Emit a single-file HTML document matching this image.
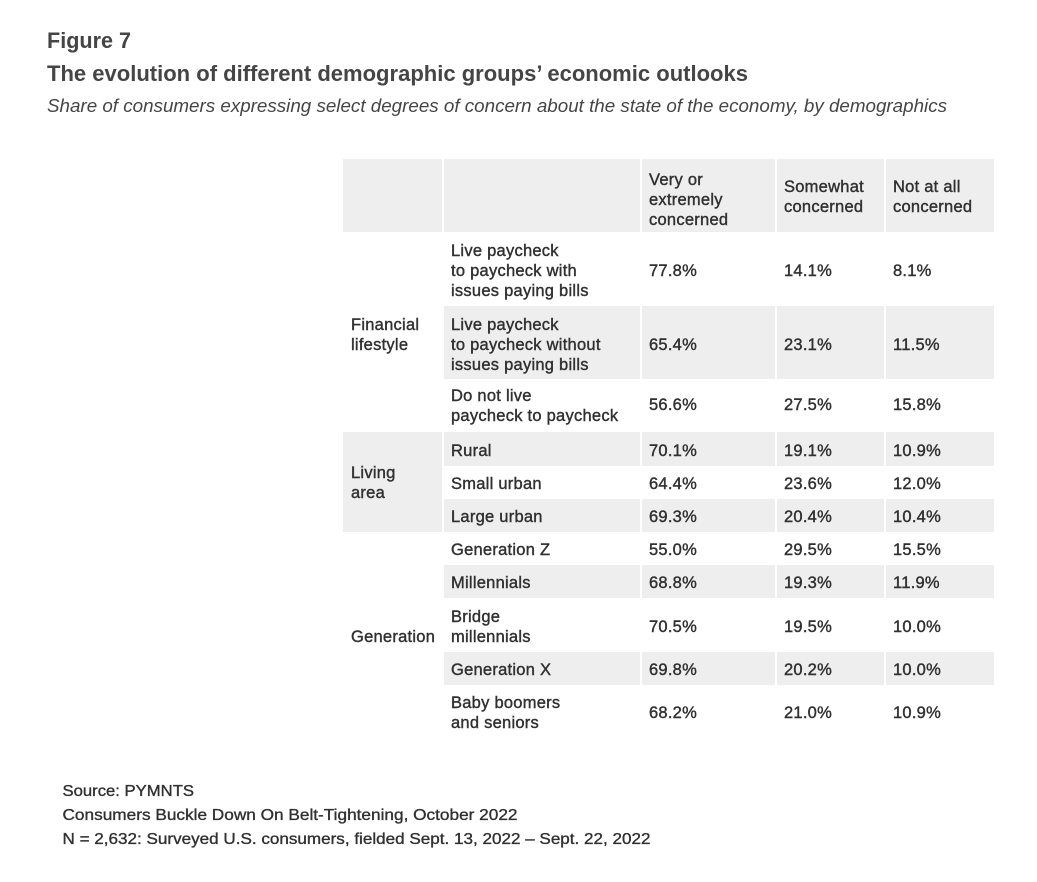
<!DOCTYPE html>
<html>
<head>
<meta charset="utf-8">
<style>
  html,body{margin:0;padding:0;background:#fff;}
  svg{display:block;}
  .t{font-family:"Liberation Sans",Arial,sans-serif;font-size:16.5px;fill:#303030;stroke:#303030;stroke-width:0.4px;letter-spacing:0.25px;}
  .ft{font-family:"Liberation Sans",Arial,sans-serif;font-size:16px;fill:#303030;stroke:#303030;stroke-width:0.35px;}
  .h1{font-family:"Liberation Sans",Arial,sans-serif;font-size:22px;font-weight:bold;fill:#454545;}
  .sub{font-family:"Liberation Sans",Arial,sans-serif;font-size:18px;font-style:italic;fill:#454545;}
</style>
</head>
<body>
<svg width="1037" height="882" viewBox="0 0 1037 882" xmlns="http://www.w3.org/2000/svg">
  <rect width="1037" height="882" fill="#fff"/>

  <!-- Titles -->
  <text class="h1" x="47" y="48" textLength="84" lengthAdjust="spacingAndGlyphs">Figure 7</text>
  <text class="h1" x="47" y="81" textLength="701" lengthAdjust="spacingAndGlyphs">The evolution of different demographic groups’ economic outlooks</text>
  <text class="sub" x="47" y="112" textLength="900" lengthAdjust="spacingAndGlyphs">Share of consumers expressing select degrees of concern about the state of the economy, by demographics</text>

  <!-- Gray backgrounds -->
  <g fill="#eeeeee">
    <rect x="343" y="159" width="99" height="73"/>
    <rect x="444" y="159" width="196" height="73"/>
    <rect x="642" y="159" width="133" height="73"/>
    <rect x="777" y="159" width="107" height="73"/>
    <rect x="886" y="159" width="108" height="73"/>
    <rect x="444" y="306" width="196" height="73"/>
    <rect x="642" y="306" width="133" height="73"/>
    <rect x="777" y="306" width="107" height="73"/>
    <rect x="886" y="306" width="108" height="73"/>
    <rect x="343" y="432" width="99" height="100"/>
    <rect x="444" y="432" width="196" height="34"/>
    <rect x="642" y="432" width="133" height="34"/>
    <rect x="777" y="432" width="107" height="34"/>
    <rect x="886" y="432" width="108" height="34"/>
    <rect x="444" y="499" width="196" height="33"/>
    <rect x="642" y="499" width="133" height="33"/>
    <rect x="777" y="499" width="107" height="33"/>
    <rect x="886" y="499" width="108" height="33"/>
    <rect x="444" y="565" width="196" height="33"/>
    <rect x="642" y="565" width="133" height="33"/>
    <rect x="777" y="565" width="107" height="33"/>
    <rect x="886" y="565" width="108" height="33"/>
    <rect x="444" y="652" width="196" height="33"/>
    <rect x="642" y="652" width="133" height="33"/>
    <rect x="777" y="652" width="107" height="33"/>
    <rect x="886" y="652" width="108" height="33"/>
  </g>

  <!-- Header text -->
  <text class="t" x="649" y="185">Very or</text>
  <text class="t" x="649" y="205">extremely</text>
  <text class="t" x="649" y="225">concerned</text>
  <text class="t" x="784" y="192">Somewhat</text>
  <text class="t" x="784" y="212">concerned</text>
  <text class="t" x="893" y="192">Not at all</text>
  <text class="t" x="893" y="212">concerned</text>

  <!-- Categories -->
  <text class="t" x="351" y="330">Financial</text>
  <text class="t" x="351" y="350">lifestyle</text>
  <text class="t" x="351" y="478">Living</text>
  <text class="t" x="351" y="498">area</text>
  <text class="t" x="351" y="642">Generation</text>

  <!-- Row labels -->
  <text class="t" x="451" y="256">Live paycheck</text>
  <text class="t" x="451" y="276">to paycheck with</text>
  <text class="t" x="451" y="296">issues paying bills</text>

  <text class="t" x="451" y="330">Live paycheck</text>
  <text class="t" x="451" y="350">to paycheck without</text>
  <text class="t" x="451" y="370">issues paying bills</text>

  <text class="t" x="451" y="401">Do not live</text>
  <text class="t" x="451" y="421">paycheck to paycheck</text>

  <text class="t" x="451" y="456">Rural</text>
  <text class="t" x="451" y="489">Small urban</text>
  <text class="t" x="451" y="522">Large urban</text>
  <text class="t" x="451" y="555">Generation Z</text>
  <text class="t" x="451" y="588">Millennials</text>
  <text class="t" x="451" y="622">Bridge</text>
  <text class="t" x="451" y="642">millennials</text>
  <text class="t" x="451" y="675">Generation X</text>
  <text class="t" x="451" y="708">Baby boomers</text>
  <text class="t" x="451" y="728">and seniors</text>

  <!-- Values -->
  <g class="t">
    <text x="649" y="276">77.8%</text><text x="784" y="276">14.1%</text><text x="893" y="276">8.1%</text>
    <text x="649" y="350">65.4%</text><text x="784" y="350">23.1%</text><text x="893" y="350">11.5%</text>
    <text x="649" y="410">56.6%</text><text x="784" y="410">27.5%</text><text x="893" y="410">15.8%</text>
    <text x="649" y="456">70.1%</text><text x="784" y="456">19.1%</text><text x="893" y="456">10.9%</text>
    <text x="649" y="489">64.4%</text><text x="784" y="489">23.6%</text><text x="893" y="489">12.0%</text>
    <text x="649" y="522">69.3%</text><text x="784" y="522">20.4%</text><text x="893" y="522">10.4%</text>
    <text x="649" y="555">55.0%</text><text x="784" y="555">29.5%</text><text x="893" y="555">15.5%</text>
    <text x="649" y="588">68.8%</text><text x="784" y="588">19.3%</text><text x="893" y="588">11.9%</text>
    <text x="649" y="632">70.5%</text><text x="784" y="632">19.5%</text><text x="893" y="632">10.0%</text>
    <text x="649" y="675">69.8%</text><text x="784" y="675">20.2%</text><text x="893" y="675">10.0%</text>
    <text x="649" y="718">68.2%</text><text x="784" y="718">21.0%</text><text x="893" y="718">10.9%</text>
  </g>

  <!-- Footer -->
  <text class="ft" x="62.5" y="796" textLength="131.5" lengthAdjust="spacingAndGlyphs">Source: PYMNTS</text>
  <text class="ft" x="62.5" y="820" textLength="455" lengthAdjust="spacingAndGlyphs">Consumers Buckle Down On Belt-Tightening, October 2022</text>
  <text class="ft" x="62.5" y="844" textLength="588" lengthAdjust="spacingAndGlyphs">N = 2,632: Surveyed U.S. consumers, fielded Sept. 13, 2022 – Sept. 22, 2022</text>
</svg>
</body>
</html>
